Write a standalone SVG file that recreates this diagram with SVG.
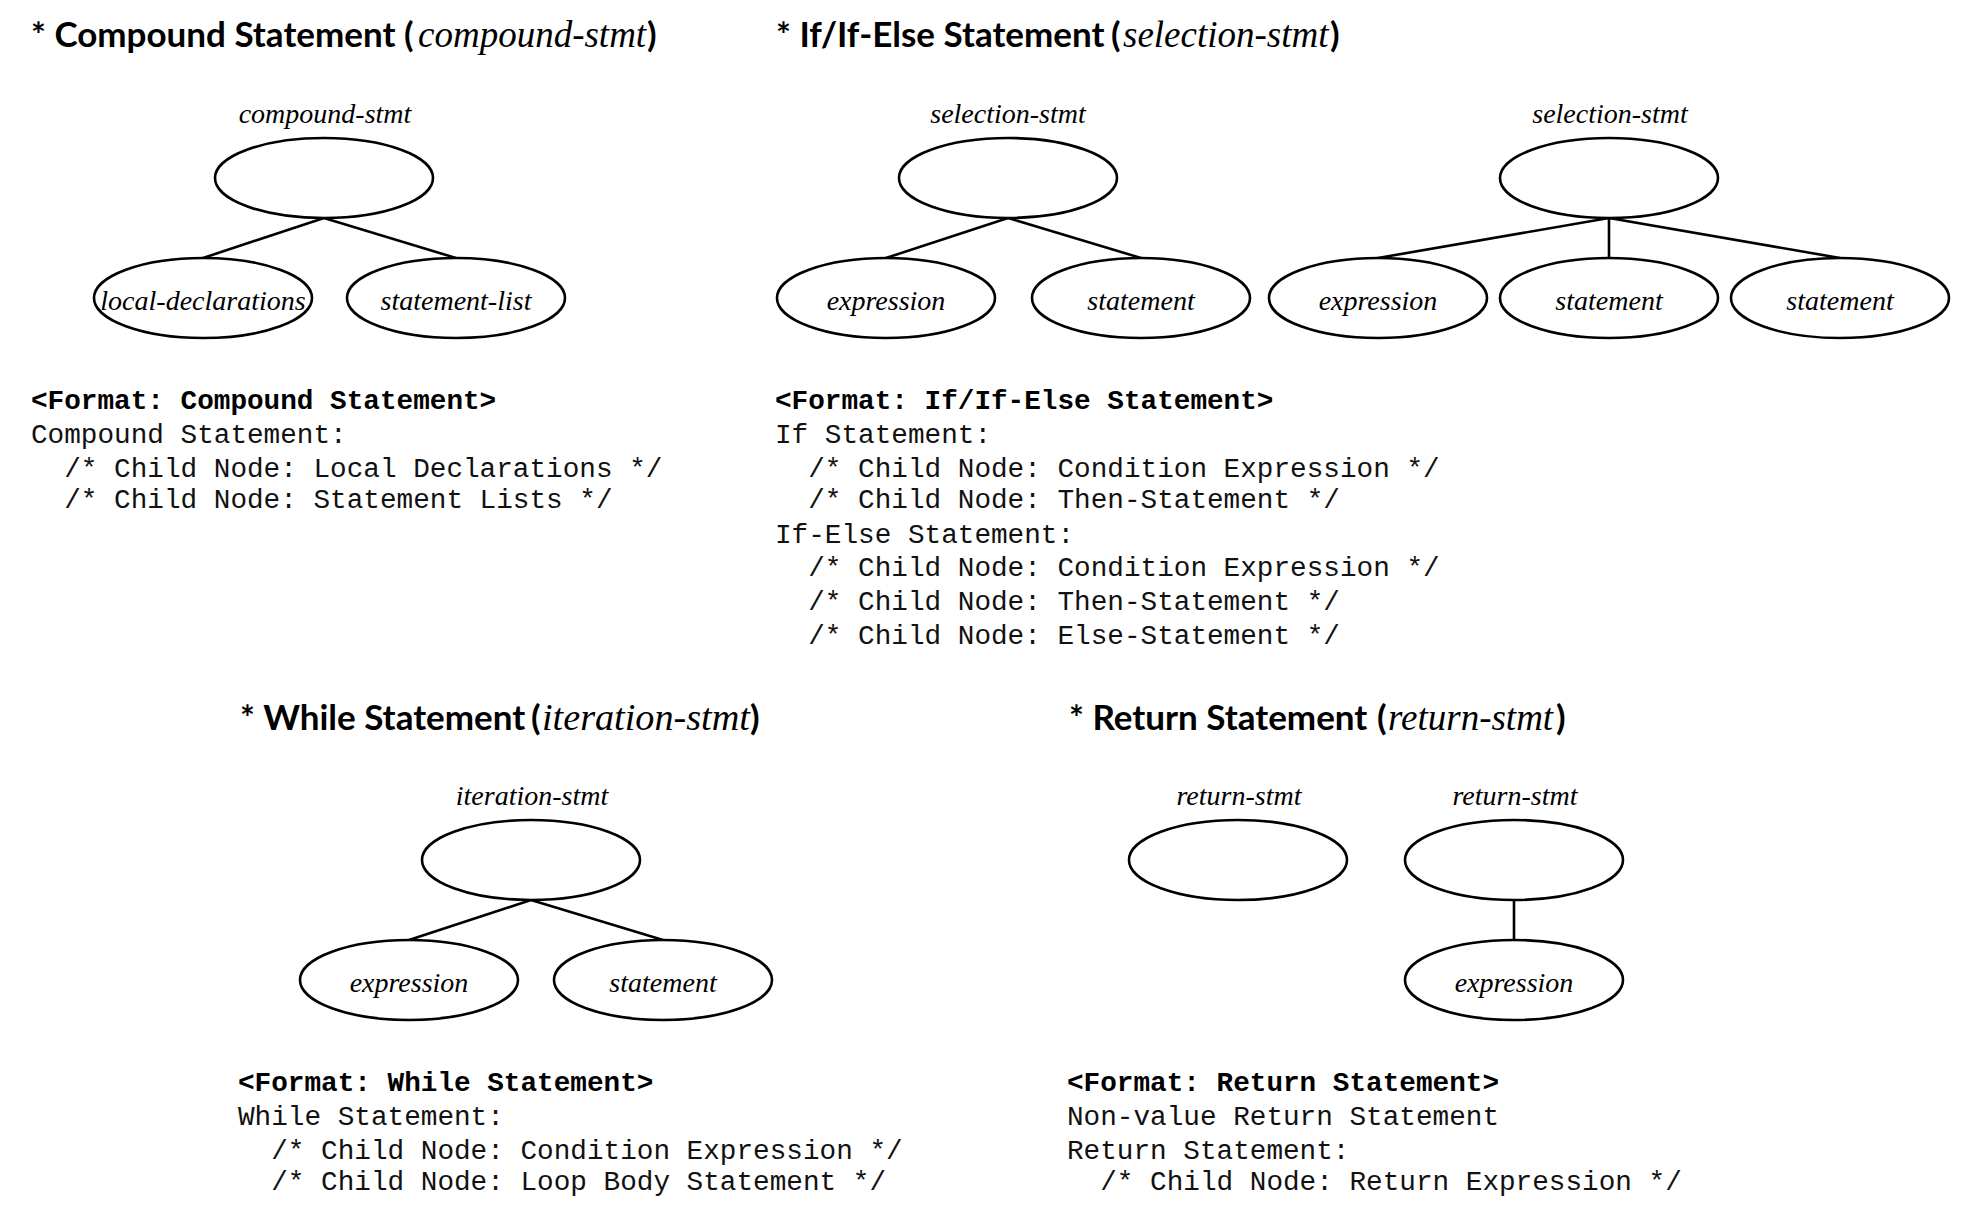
<svg xmlns="http://www.w3.org/2000/svg" width="1968" height="1210" viewBox="0 0 1968 1210">
<style>
.title{font-family:Lato,"Liberation Sans",sans-serif;font-weight:bold;font-size:35px;fill:#000}
.ti{font-family:"Liberation Serif",serif;font-style:italic;font-weight:normal;font-size:37px}
.lab{font-family:"Liberation Serif",serif;font-style:italic;font-size:28px;fill:#000;text-anchor:middle}
.node{fill:#fff;stroke:#000;stroke-width:2.6}
.edge{stroke:#000;stroke-width:2.6;fill:none}
.code{font-family:"Liberation Mono",monospace;font-size:27.7px;fill:#111;white-space:pre}
.codeb{font-family:"Liberation Mono",monospace;font-size:27.7px;font-weight:bold;fill:#000}
</style>
<rect width="1968" height="1210" fill="#fff"/>

<!-- Titles -->
<g id="titles">
<text class="title" y="47"><tspan x="31">* Compound Statement</tspan><tspan x="404">(</tspan><tspan class="ti" x="418">compound-stmt</tspan><tspan x="647">)</tspan></text>
<text class="title" y="47"><tspan x="776">* If/If-Else Statement</tspan><tspan x="1111">(</tspan><tspan class="ti" x="1123">selection-stmt</tspan><tspan x="1330">)</tspan></text>
<text class="title" y="730"><tspan x="240">* While Statement</tspan><tspan x="531">(</tspan><tspan class="ti" x="542" style="font-size:38.2px">iteration-stmt</tspan><tspan x="750">)</tspan></text>
<text class="title" y="730"><tspan x="1069">* Return Statement</tspan><tspan x="1377">(</tspan><tspan class="ti" x="1388">return-stmt</tspan><tspan x="1556">)</tspan></text>
</g>

<!-- Connectors -->
<g id="connectors">
<line class="edge" x1="324" y1="218" x2="203" y2="258"/>
<line class="edge" x1="324" y1="218" x2="456" y2="258"/>
<line class="edge" x1="1008" y1="218" x2="886" y2="258"/>
<line class="edge" x1="1008" y1="218" x2="1141" y2="258"/>
<line class="edge" x1="1609" y1="218" x2="1378" y2="258"/>
<line class="edge" x1="1609" y1="218" x2="1609" y2="258"/>
<line class="edge" x1="1609" y1="218" x2="1840" y2="258"/>
<line class="edge" x1="531" y1="900" x2="409" y2="940"/>
<line class="edge" x1="531" y1="900" x2="663" y2="940"/>
<line class="edge" x1="1514" y1="900" x2="1514" y2="940"/>
</g>

<!-- Compound statement tree -->
<g id="compound-stmt">
<text class="lab" x="325" y="123">compound-stmt</text>
<ellipse class="node" cx="324" cy="178" rx="109" ry="40"/>
</g>
<g id="local-declarations">
<ellipse class="node" cx="203" cy="298" rx="109" ry="40"/>
<text class="lab" x="203" y="310">local-declarations</text>
</g>
<g id="statement-list">
<ellipse class="node" cx="456" cy="298" rx="109" ry="40"/>
<text class="lab" x="456" y="310">statement-list</text>
</g>

<!-- If statement tree -->
<g id="selection-stmt-if">
<text class="lab" x="1008" y="123">selection-stmt</text>
<ellipse class="node" cx="1008" cy="178" rx="109" ry="40"/>
</g>
<g id="if-expression">
<ellipse class="node" cx="886" cy="298" rx="109" ry="40"/>
<text class="lab" x="886" y="310">expression</text>
</g>
<g id="if-statement">
<ellipse class="node" cx="1141" cy="298" rx="109" ry="40"/>
<text class="lab" x="1141" y="310">statement</text>
</g>

<!-- If-Else statement tree -->
<g id="selection-stmt-ifelse">
<text class="lab" x="1610" y="123">selection-stmt</text>
<ellipse class="node" cx="1609" cy="178" rx="109" ry="40"/>
</g>
<g id="ifelse-expression">
<ellipse class="node" cx="1378" cy="298" rx="109" ry="40"/>
<text class="lab" x="1378" y="310">expression</text>
</g>
<g id="ifelse-then">
<ellipse class="node" cx="1609" cy="298" rx="109" ry="40"/>
<text class="lab" x="1609" y="310">statement</text>
</g>
<g id="ifelse-else">
<ellipse class="node" cx="1840" cy="298" rx="109" ry="40"/>
<text class="lab" x="1840" y="310">statement</text>
</g>

<!-- While tree -->
<g id="iteration-stmt">
<text class="lab" x="532" y="805">iteration-stmt</text>
<ellipse class="node" cx="531" cy="860" rx="109" ry="40"/>
</g>
<g id="while-expression">
<ellipse class="node" cx="409" cy="980" rx="109" ry="40"/>
<text class="lab" x="409" y="992">expression</text>
</g>
<g id="while-statement">
<ellipse class="node" cx="663" cy="980" rx="109" ry="40"/>
<text class="lab" x="663" y="992">statement</text>
</g>

<!-- Return trees -->
<g id="return-stmt-novalue">
<text class="lab" x="1239" y="805">return-stmt</text>
<ellipse class="node" cx="1238" cy="860" rx="109" ry="40"/>
</g>
<g id="return-stmt-value">
<text class="lab" x="1515" y="805">return-stmt</text>
<ellipse class="node" cx="1514" cy="860" rx="109" ry="40"/>
</g>
<g id="return-expression">
<ellipse class="node" cx="1514" cy="980" rx="109" ry="40"/>
<text class="lab" x="1514" y="992">expression</text>
</g>

<!-- Format blocks -->
<g id="format-compound">
<text class="codeb" x="31" y="409">&lt;Format: Compound Statement&gt;</text>
<text class="code" x="31" y="443">Compound Statement:</text>
<text class="code" x="31" y="477" xml:space="preserve">  /* Child Node: Local Declarations */</text>
<text class="code" x="31" y="508" xml:space="preserve">  /* Child Node: Statement Lists */</text>
</g>
<g id="format-if">
<text class="codeb" x="775" y="409">&lt;Format: If/If-Else Statement&gt;</text>
<text class="code" x="775" y="443">If Statement:</text>
<text class="code" x="775" y="477" xml:space="preserve">  /* Child Node: Condition Expression */</text>
<text class="code" x="775" y="508" xml:space="preserve">  /* Child Node: Then-Statement */</text>
<text class="code" x="775" y="543">If-Else Statement:</text>
<text class="code" x="775" y="576" xml:space="preserve">  /* Child Node: Condition Expression */</text>
<text class="code" x="775" y="610" xml:space="preserve">  /* Child Node: Then-Statement */</text>
<text class="code" x="775" y="644" xml:space="preserve">  /* Child Node: Else-Statement */</text>
</g>
<g id="format-while">
<text class="codeb" x="238" y="1091">&lt;Format: While Statement&gt;</text>
<text class="code" x="238" y="1125">While Statement:</text>
<text class="code" x="238" y="1159" xml:space="preserve">  /* Child Node: Condition Expression */</text>
<text class="code" x="238" y="1190" xml:space="preserve">  /* Child Node: Loop Body Statement */</text>
</g>
<g id="format-return">
<text class="codeb" x="1067" y="1091">&lt;Format: Return Statement&gt;</text>
<text class="code" x="1067" y="1125">Non-value Return Statement</text>
<text class="code" x="1067" y="1159">Return Statement:</text>
<text class="code" x="1067" y="1190" xml:space="preserve">  /* Child Node: Return Expression */</text>
</g>
</svg>
